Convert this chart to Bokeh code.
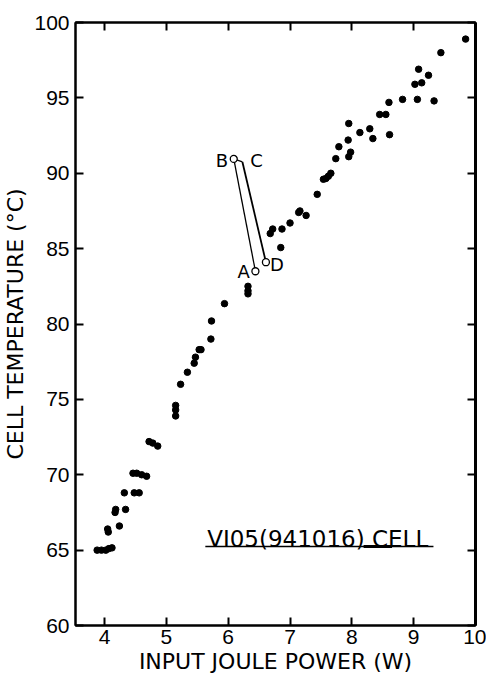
from bokeh.plotting import figure
from bokeh.models import LinearAxis, FixedTicker, Range1d
from bokeh.core.properties import value
from bokeh.embed import file_html
from bokeh.resources import INLINE

# ---- data ----
power = [3.88, 3.95, 4.02, 4.07, 4.12,
         4.05, 4.06, 4.17, 4.18, 4.24, 4.32, 4.34, 4.48, 4.56,
         4.46, 4.52, 4.60, 4.68, 4.72, 4.78, 4.86,
         5.15, 5.15, 5.15, 5.23, 5.34, 5.45, 5.47, 5.53, 5.56,
         5.72, 5.73, 5.94, 6.32, 6.32, 6.32,
         6.68, 6.72, 6.87, 6.85, 7.00, 7.14, 7.16, 7.26, 7.44,
         7.54, 7.58, 7.62, 7.66, 7.74, 7.79, 7.95, 7.98, 7.94, 7.95,
         8.13, 8.29, 8.34, 8.45, 8.55, 8.60, 8.61, 8.82, 9.06, 9.33,
         9.02, 9.13, 9.08, 9.24, 9.44, 9.84]
temperature = [65.0, 65.0, 65.0, 65.1, 65.15,
               66.4, 66.2, 67.5, 67.7, 66.6, 68.8, 67.7, 68.8, 68.8,
               70.1, 70.1, 70.0, 69.9, 72.2, 72.1, 71.9,
               74.6, 74.3, 73.9, 76.0, 76.8, 77.4, 77.8, 78.3, 78.3,
               79.0, 80.2, 81.35, 82.5, 82.2, 82.0,
               86.0, 86.3, 86.3, 85.07, 86.7, 87.4, 87.5, 87.2, 88.6,
               89.6, 89.65, 89.8, 90.0, 90.97, 91.76, 91.1, 91.4, 92.2, 93.3,
               92.7, 92.95, 92.3, 93.9, 93.9, 94.7, 92.56, 94.9, 94.9, 94.8,
               95.9, 96.0, 96.9, 96.5, 98.0, 98.9]

x_ticks = [4, 5, 6, 7, 8, 9, 10]
y_ticks = [60, 65, 70, 75, 80, 85, 90, 95, 100]

# excursion path A -> B -> C -> D
path_labels = ["A", "B", "C", "D"]
path_x = [6.44, 6.09, 6.23, 6.61]
path_y = [83.5, 90.95, 90.75, 84.1]
label_x = [6.25, 5.90, 6.46, 6.79]
label_y = [83.5, 90.85, 90.85, 83.95]

cell_label = "VI05(941016) CELL"
cell_label_x = 5.66
cell_label_y = 65.75
underline_x = [5.63, 9.32]
underline_y = [65.24, 65.24]
underline_thick_x = [8.19, 8.65]
FONT = "DejaVu Sans"

p = figure(width=486, height=681, x_range=Range1d(3.53, 10.0), y_range=Range1d(60, 100),
           output_backend="svg", toolbar_location=None,
           min_border_left=73, min_border_right=11, min_border_top=22, min_border_bottom=56)
p.grid.visible = False
p.outline_line_color = "black"
p.outline_line_width = 2
p.background_fill_color = "white"
p.border_fill_color = "white"

for ax in (p.xaxis[0], p.yaxis[0]):
    ax.axis_line_color = "black"
    ax.axis_line_width = 2
    ax.major_tick_in = 8
    ax.major_tick_out = 0
    ax.major_tick_line_width = 2
    ax.minor_tick_line_color = None
    ax.major_label_text_font = "Liberation Sans"
    ax.major_label_text_font_size = "21px"
    ax.major_label_text_color = "black"
    ax.axis_label_text_font = FONT
    ax.axis_label_text_font_style = "normal"
    ax.axis_label_text_font_size = "22px"
    ax.axis_label_text_color = "black"

p.xaxis[0].ticker = FixedTicker(ticks=x_ticks)
p.yaxis[0].ticker = FixedTicker(ticks=y_ticks)
p.xaxis[0].axis_label = "INPUT JOULE POWER (W)"
p.yaxis[0].axis_label = "CELL TEMPERATURE (°C)"
p.xaxis[0].major_label_standoff = 4
p.xaxis[0].axis_label_standoff = 2
p.yaxis[0].major_label_standoff = 6
p.yaxis[0].axis_label_standoff = 3

top = LinearAxis(ticker=FixedTicker(ticks=x_ticks[:-1]))
right = LinearAxis(ticker=FixedTicker(ticks=y_ticks))
for ax in (top, right):
    ax.major_label_text_font_size = "1px"
    ax.major_label_text_color = None
    ax.major_label_standoff = 0
    ax.major_tick_in = 8
    ax.major_tick_out = 0
    ax.major_tick_line_width = 2
    ax.minor_tick_line_color = None
    ax.axis_line_color = "black"
right.axis_line_width = 3
top.axis_line_width = 2
p.add_layout(top, "above")
p.add_layout(right, "right")

p.scatter(power, temperature, size=6.5, marker="circle", color="black")

p.line([path_x[1], path_x[0]], [path_y[1], path_y[0]], line_color="black", line_width=1.3)
p.line([path_x[1], path_x[2]], [path_y[1], path_y[2]], line_color="black", line_width=1.3)
p.line([path_x[2], path_x[3]], [path_y[2], path_y[3]], line_color="black", line_width=1.8)
p.scatter([path_x[0], path_x[1], path_x[3]], [path_y[0], path_y[1], path_y[3]], size=7,
          marker="circle", fill_color="white", line_color="black", line_width=1.3)
p.text(label_x, label_y, text=path_labels, text_font=value(FONT), text_font_size="18px",
       text_align="center", text_baseline="middle", text_color="black")

p.text([cell_label_x], [cell_label_y], text=[cell_label], text_font=value(FONT),
       text_font_size="23px", text_align="left", text_baseline="alphabetic", text_color="black")
p.line(underline_x, underline_y, line_color="black", line_width=1.5)
p.line(underline_thick_x, underline_y, line_color="black", line_width=3)

open("out.html", "w").write(file_html(p, INLINE))
